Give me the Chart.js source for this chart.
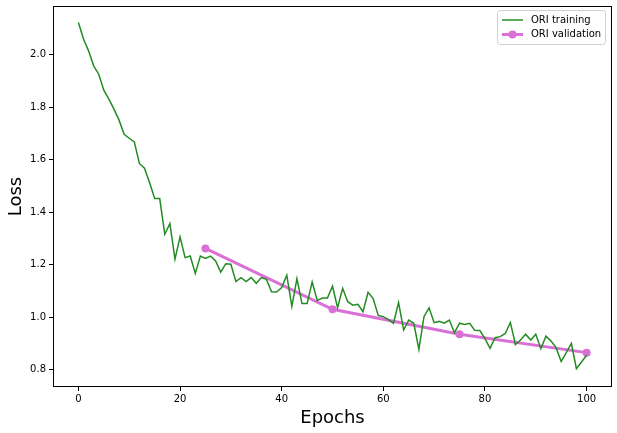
<!DOCTYPE html>
<html>
<head>
<meta charset="utf-8">
<script src="https://cdn.jsdelivr.net/npm/chart.js@4.4.1/dist/chart.umd.min.js"></script>
<style>
  body { margin: 0; background: #fff; }
  #wrap { width: 617px; height: 433px; }
</style>
</head>
<body>
<div id="wrap"><canvas id="lossChart"></canvas></div>
<script>
// training loss, one value per epoch 0..100
const trainLoss = [
  2.123, 2.06, 2.015, 1.958, 1.926, 1.865, 1.831, 1.793, 1.751, 1.697,
  1.682, 1.668, 1.586, 1.568, 1.513, 1.452, 1.452, 1.316, 1.357, 1.221,
  1.306, 1.227, 1.233, 1.167, 1.233, 1.224, 1.233, 1.214, 1.172, 1.204,
  1.202, 1.136, 1.151, 1.136, 1.151, 1.129, 1.151, 1.144, 1.097, 1.096,
  1.113, 1.160, 1.041, 1.147, 1.052, 1.052, 1.134, 1.064, 1.073, 1.073,
  1.118, 1.036, 1.110, 1.059, 1.046, 1.049, 1.021, 1.095, 1.071, 1.007,
  1.002, 0.991, 0.977, 1.056, 0.951, 0.989, 0.977, 0.877, 1.002, 1.036,
  0.979, 0.984, 0.977, 0.989, 0.941, 0.977, 0.972, 0.977, 0.950, 0.949,
  0.918, 0.881, 0.922, 0.926, 0.938, 0.980, 0.896, 0.913, 0.935, 0.913,
  0.935, 0.880, 0.928, 0.909, 0.884, 0.831, 0.865, 0.900, 0.804, 0.829,
  0.855
];
const valEpochs = [25, 50, 75, 100];
const valLoss = [1.262, 1.030, 0.935, 0.865];

const xTicks = [0, 20, 40, 60, 80, 100];
const yTicks = [0.8, 1.0, 1.2, 1.4, 1.6, 1.8, 2.0];

const FONT = "'DejaVu Sans', sans-serif";

// box round the plot area plus matplotlib-like legend
const framePlugin = {
  id: 'frame',
  afterDraw(chart) {
    const ctx = chart.ctx;
    const a = chart.chartArea;
    ctx.save();
    ctx.strokeStyle = '#000';
    ctx.lineWidth = 1;
    ctx.strokeRect(a.left + 0.5, a.top + 0.5, a.right - a.left - 1, a.bottom - a.top - 1);

    // legend
    const bx = 497, by = 10.5, bw = 108, bh = 34;
    ctx.fillStyle = 'rgba(255,255,255,0.8)';
    ctx.strokeStyle = '#d0d0d0';
    ctx.lineWidth = 1;
    ctx.beginPath();
    ctx.roundRect(bx + 0.5, by, bw, bh, 3);
    ctx.fill();
    ctx.stroke();

    ctx.font = '10px ' + FONT;
    ctx.textBaseline = 'middle';
    chart.data.datasets.forEach((ds, i) => {
      const y = by + 9.5 + i * 14.5;
      ctx.strokeStyle = ds.borderColor;
      ctx.lineWidth = ds.borderWidth;
      ctx.beginPath();
      ctx.moveTo(502, y);
      ctx.lineTo(523, y);
      ctx.stroke();
      if (ds.pointRadius > 0) {
        ctx.fillStyle = ds.pointBackgroundColor;
        ctx.beginPath();
        ctx.arc(512.5, y, ds.pointRadius, 0, Math.PI * 2);
        ctx.fill();
      }
      ctx.fillStyle = '#000';
      ctx.fillText(ds.label, 531, y);
    });
    ctx.restore();
  }
};

const ctx = document.getElementById('lossChart').getContext('2d');
new Chart(ctx, {
  type: 'line',
  data: {
    datasets: [
      {
        label: 'ORI training',
        data: trainLoss.map((v, i) => ({ x: i, y: v })),
        borderColor: '#228B22',
        borderWidth: 1.5,
        pointRadius: 0,
        tension: 0
      },
      {
        label: 'ORI validation',
        data: valEpochs.map((e, i) => ({ x: e, y: valLoss[i] })),
        borderColor: '#DA70D6',
        backgroundColor: '#DA70D6',
        pointBackgroundColor: '#DA70D6',
        pointBorderWidth: 0,
        borderWidth: 3,
        pointRadius: 4,
        tension: 0
      }
    ]
  },
  options: {
    responsive: true,
    maintainAspectRatio: false,
    animation: false,
    layout: { padding: { left: 0, top: 6, right: 5, bottom: 0 } },
    plugins: {
      legend: { display: false },
      tooltip: { enabled: false }
    },
    scales: {
      x: {
        type: 'linear',
        min: -5,
        max: 105,
        afterBuildTicks: s => { s.ticks = xTicks.map(v => ({ value: v })); },
        afterFit: s => { s.height = 46; s.paddingLeft = 0; s.paddingRight = 0; },
        grid: { display: true, drawOnChartArea: false, drawTicks: true, tickLength: 4, color: '#000' },
        border: { display: false },
        ticks: { font: { family: FONT, size: 10 }, color: '#000', padding: 2, maxRotation: 0 },
        title: { display: true, text: 'Epochs', font: { family: FONT, size: 18 }, color: '#000', padding: { top: 2, bottom: 4 } }
      },
      y: {
        type: 'linear',
        min: 0.734,
        max: 2.186,
        afterBuildTicks: s => { s.ticks = yTicks.map(v => ({ value: v })); },
        afterFit: s => { s.width = 53; s.paddingTop = 0; s.paddingBottom = 0; },
        grid: { display: true, drawOnChartArea: false, drawTicks: true, tickLength: 4, color: '#000' },
        border: { display: false },
        ticks: { font: { family: FONT, size: 10 }, color: '#000', padding: 3, callback: v => v.toFixed(1) },
        title: { display: true, text: 'Loss', font: { family: FONT, size: 18 }, color: '#000', padding: { top: 6, bottom: 2 } }
      }
    }
  },
  plugins: [framePlugin]
});
</script>
</body>
</html>
